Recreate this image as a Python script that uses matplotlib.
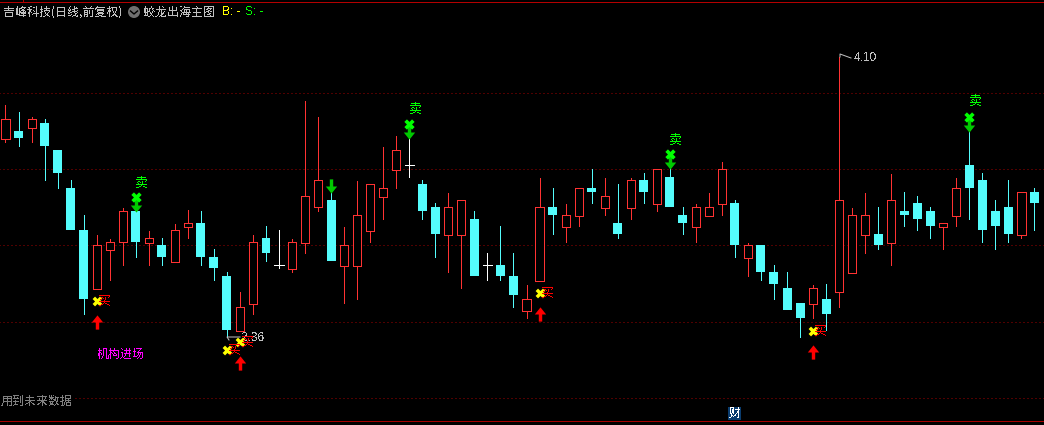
import matplotlib
matplotlib.use("Agg")
import matplotlib.pyplot as plt
import numpy as np
from matplotlib.patches import Circle, Rectangle
from matplotlib.path import Path
from matplotlib.transforms import offset_copy

plt.rcParams['font.family'] = ['Noto Sans CJK SC', 'DejaVu Sans']
plt.rcParams['text.antialiased'] = False

# daily candles
opens = [3.592, 3.640, 3.660, 3.690, 3.522, 3.286, 3.025, 2.658, 2.902, 2.950,
         3.143, 2.946, 2.932, 2.826, 3.043, 3.068, 2.857, 2.739, 2.399, 2.567,
         2.975, 2.805, 2.784, 2.946, 3.166, 3.211, 2.803, 2.803, 3.020, 3.232,
         3.399, 3.427, 3.311, 3.168, 2.995, 2.995, 3.093, 2.805, 2.807, 2.739,
         2.523, 2.710, 3.168, 3.045, 3.114, 3.286, 3.163, 3.068, 3.163, 3.335,
         3.188, 3.354, 3.118, 3.045, 3.114, 3.188, 3.192, 2.853, 2.932, 2.764,
         2.664, 2.571, 2.567, 2.596, 2.641, 2.759, 2.995, 3.000, 2.946, 3.143,
         3.192, 3.143, 3.045, 3.114, 3.429, 3.335, 3.143, 3.168, 2.995, 3.261]
closes = [3.713, 3.596, 3.713, 3.547, 3.379, 3.025, 2.596, 2.932, 2.948, 3.143,
          2.950, 2.975, 2.857, 3.025, 3.068, 2.857, 2.789, 2.403, 2.544, 2.948,
          2.882, 2.805, 2.948, 3.236, 3.334, 2.832, 2.932, 3.116, 3.309, 3.284,
          3.520, 3.427, 3.143, 3.000, 3.166, 3.209, 2.739, 2.805, 2.739, 2.621,
          2.594, 3.166, 3.118, 3.116, 3.284, 3.261, 3.234, 3.000, 3.334, 3.261,
          3.402, 3.168, 3.068, 3.166, 3.166, 3.402, 2.932, 2.930, 2.764, 2.689,
          2.528, 2.478, 2.663, 2.503, 3.209, 3.116, 3.116, 2.932, 3.209, 3.118,
          3.093, 3.050, 3.066, 3.284, 3.286, 3.025, 3.050, 3.000, 3.259, 3.192]
highs = [3.801, 3.758, 3.727, 3.715, 3.522, 3.335, 3.118, 2.994, 2.969, 3.161,
         3.155, 3.018, 2.975, 3.062, 3.149, 3.143, 2.907, 2.764, 2.639, 2.994,
         3.050, 3.025, 2.969, 3.826, 3.727, 3.263, 3.043, 3.329, 3.311, 3.541,
         3.609, 3.596, 3.335, 3.192, 3.255, 3.211, 3.143, 2.882, 3.050, 2.882,
         2.683, 3.348, 3.286, 3.186, 3.286, 3.404, 3.348, 3.311, 3.348, 3.379,
         3.404, 3.404, 3.168, 3.186, 3.255, 3.447, 3.211, 2.944, 2.932, 2.807,
         2.764, 2.571, 2.683, 2.689, 4.100, 3.161, 3.255, 3.168, 3.373, 3.261,
         3.236, 3.168, 3.068, 3.348, 3.640, 3.379, 3.211, 3.335, 3.261, 3.286]
lows = [3.572, 3.547, 3.572, 3.335, 3.286, 3.025, 2.503, 2.658, 2.714, 2.807,
        2.857, 2.807, 2.807, 2.826, 2.975, 2.807, 2.714, 2.360, 2.397, 2.503,
        2.832, 2.789, 2.764, 2.882, 3.143, 2.832, 2.571, 2.596, 2.950, 3.093,
        3.286, 3.354, 3.093, 2.857, 2.764, 2.664, 2.739, 2.714, 2.714, 2.546,
        2.478, 2.710, 3.000, 2.950, 3.050, 3.192, 3.118, 2.975, 3.093, 3.192,
        3.143, 3.168, 3.000, 2.950, 3.114, 3.118, 2.857, 2.739, 2.714, 2.596,
        2.528, 2.360, 2.478, 2.403, 2.546, 2.759, 2.882, 2.907, 2.807, 3.050,
        3.025, 2.975, 2.907, 3.050, 3.093, 2.950, 2.907, 2.950, 2.975, 3.025]

grid_prices = [3.876, 3.404, 2.932, 2.453, 1.981]

# signals
sell_idx = [10, 31, 51, 74]
sell_x_price = [3.230, 3.683, 3.497, 3.727]
sell_arrow_price = [3.180, 3.634, 3.447, 3.677]
sell_text_price = [3.317, 3.777, 3.584, 3.826]
extra_arrow_idx = [25]
extra_arrow_price = [3.301]
buy_idx = [7, 17, 18, 41, 62]
buy_x_price = [2.583, 2.279, 2.329, 2.633, 2.397]
buy_arrow_idx = [7, 18, 41, 62]
buy_arrow_price = [2.456, 2.198, 2.500, 2.267]

CYAN = '#54FCFC'
RED = '#FF3232'
W, H = 1044, 425
LW = 0.72  # one pixel at 100 dpi

opens = np.array(opens)
closes = np.array(closes)
highs = np.array(highs)
lows = np.array(lows)
x = np.arange(len(opens))

fig = plt.figure(figsize=(W / 100, H / 100), dpi=100, facecolor='black')
ax = fig.add_axes([0, 0, 1, 1], facecolor='black')
ax.set_xlim(-0.422, 79.73)
ax.set_ylim(1.813, 4.454)
ax.axis('off')

ax.hlines(grid_prices, -1, 81, color='#A00000', lw=LW, linestyles=[(0, (1, 3))], zorder=1)

up = closes > opens
down = closes < opens
flat = closes == opens

# wicks stop at the body, hollow candles stay empty
top = np.maximum(opens, closes)
bot = np.minimum(opens, closes)
colors = np.where(up, RED, np.where(down, CYAN, 'white'))
ax.vlines(x, top, highs, colors=colors, lw=LW, zorder=2, antialiased=False)
ax.vlines(x, lows, bot, colors=colors, lw=LW, zorder=2, antialiased=False)

ax.bar(x[down], (opens - closes)[down], bottom=closes[down], width=0.69, color=CYAN,
       lw=0, zorder=3, antialiased=False)
ax.bar(x[up], (closes - opens)[up], bottom=opens[up], width=0.62, facecolor='black',
       edgecolor=RED, lw=LW, zorder=3, antialiased=False)
ax.hlines(closes[flat], x[flat] - 0.35, x[flat] + 0.35, colors='white', lw=LW, zorder=3,
          antialiased=False)

arrow_up = Path([(0, 1), (0.8, 0.0), (0.24, 0.0), (0.24, -1), (-0.24, -1), (-0.24, 0.0),
                 (-0.8, 0.0), (0, 1)], closed=True)
arrow_down = Path([(0, -1), (0.8, 0.0), (0.24, 0.0), (0.24, 1), (-0.24, 1), (-0.24, 0.0),
                   (-0.8, 0.0), (0, -1)], closed=True)

ax.scatter(buy_arrow_idx, buy_arrow_price, marker=arrow_up, s=105, color='#FF0000', lw=0, zorder=5)
ax.scatter(sell_idx + extra_arrow_idx, sell_arrow_price + extra_arrow_price, marker=arrow_down,
           s=105, color='#00C800', lw=0, zorder=5)
ax.scatter(sell_idx, sell_x_price, marker='X', s=55, color='#00FF00', lw=0, zorder=6)

text_shift = offset_copy(ax.transData, fig=fig, x=6, y=0, units='dots')
buy_shift = offset_copy(ax.transData, fig=fig, x=8, y=0, units='dots')
for i, p in zip(sell_idx, sell_text_price):
    ax.text(i, p, '卖', transform=text_shift, color='#00FF00', fontsize=9.4,
            ha='center', va='center', zorder=6)
for i, p in zip(buy_idx, buy_x_price):
    ax.text(i, p, '买', transform=buy_shift, color='#FF0000', fontsize=9.4,
            ha='center', va='center', zorder=8)
ax.scatter(buy_idx, buy_x_price, marker='X', s=50, color='#FFFF00', lw=0, zorder=7)

# price labels on the extremes
label_shift = offset_copy(ax.transData, fig=fig, x=15, y=-1, units='dots')
hi_i = int(np.argmax(highs))
lo_i = int(np.argmin(lows))
ax.text(hi_i, highs[hi_i], '%.2f' % highs[hi_i], transform=label_shift, color='#C0C0C0',
        fontsize=8.6, family=['Liberation Sans'], ha='left', va='center', zorder=6)
ax.text(lo_i, lows[lo_i], '%.2f' % lows[lo_i], transform=label_shift, color='#C0C0C0',
        fontsize=8.6, family=['Liberation Sans'], ha='left', va='center', zorder=6)

# window furniture, in screen pixels
ui = fig.add_axes([0, 0, 1, 1], facecolor='none')
ui.set_xlim(0, W)
ui.set_ylim(H, 0)
ui.axis('off')
ui.hlines(2, 0, W, color='#B40000', lw=LW, antialiased=False)
ui.vlines(23, 0, 2, color='#B40000', lw=LW, antialiased=False)
ui.hlines(421, 0, W, color='#A80000', lw=LW, antialiased=False)

ui.plot([840, 840, 851], [57, 54, 58], color='#C0C0C0', lw=LW, zorder=6)
ui.plot([229, 227, 240], [340, 337, 337], color='#C0C0C0', lw=LW, zorder=6)

ui.text(3, 12, '吉峰科技(日线,前复权)', color='#C0C0C0', fontsize=8.64, va='center', ha='left')
ui.add_patch(Circle((134, 12), 6, color='#707070', lw=0))
ui.plot([130.5, 134, 137.5], [11, 14, 11], color='black', lw=1)
ui.text(144, 12, '蛟龙出海主图', color='#C0C0C0', fontsize=8.64, va='center', ha='left')
ui.text(222, 12, 'B: -', color='#FFFF00', fontsize=8.6, family=['Liberation Sans'], va='center', ha='left')
ui.text(245, 12, 'S: -', color='#00FF00', fontsize=8.6, family=['Liberation Sans'], va='center', ha='left')

ui.text(97, 354, '机构进场', color='#FF00FF', fontsize=8.64, va='center', ha='left')
ui.text(1, 401, '用到未来数据', color='#808080', fontsize=8.64, va='center', ha='left',
        bbox=dict(facecolor='black', edgecolor='none', pad=1))
ui.add_patch(Rectangle((728, 407), 13, 13, color='#0A3C6E', lw=0))
ui.text(734.5, 413.5, '财', color='white', fontsize=8.64, va='center', ha='center')

fig.savefig('out.png', dpi=100, facecolor='black')
